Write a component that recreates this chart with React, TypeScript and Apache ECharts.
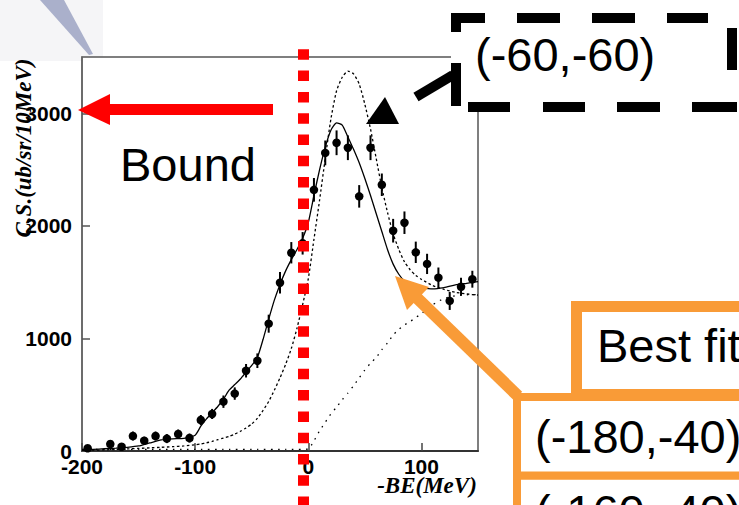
import React, { useEffect, useRef } from 'react';
import * as echarts from 'echarts';

// Measured data points (binding energy, cross section) with error bars
const pointX = [-195,-175,-165,-155,-145,-135,-125,-115,-105,-95,-85,-75,-65,-55,-45,-35,-25,-15,-5,5,15,25,35,45,55,65,75,85,95,105,115,125,135,145];
const pointY = [24,62,38,133,92,133,110,151,115,275,329,438,510,713,802,1131,1495,1761,1845,2320,2648,2738,2694,2262,2694,2365,1957,2028,1765,1662,1540,1333,1459,1526];
const pointErr = [30,35,30,40,35,40,40,40,40,45,45,55,55,60,65,80,95,95,100,105,110,110,110,100,110,100,105,100,95,90,90,80,80,75];

// Curves sampled on a shared x grid
const curveX = [-200,-190,-180,-170,-160,-150,-140,-130,-120,-110,-100,-95,-90,-85,-80,-75,-70,-65,-60,-55,-50,-45,-40,-35,-30,-25,-20,-15,-10,-5,0,5,10,15,20,25,30,35,40,45,50,55,60,65,70,75,80,85,90,95,100,110,120,130,140,150];
const bestFitY = [12,15,20,25,33,45,72,98,108,113,140,220,285,340,395,460,540,590,640,700,760,830,990,1170,1340,1480,1600,1700,1790,1890,2030,2270,2500,2700,2850,2915,2895,2790,2680,2560,2420,2270,2110,1950,1790,1660,1570,1510,1475,1460,1450,1440,1452,1475,1490,1505];
const model6060Y = [5,7,10,14,18,23,28,33,38,45,55,62,72,85,100,115,130,150,175,205,240,290,360,440,540,650,770,910,1090,1300,1530,1880,2230,2600,2950,3200,3320,3375,3350,3260,3080,2860,2600,2340,2120,1930,1790,1680,1610,1560,1525,1470,1435,1410,1395,1385];
const quasiFreeY = [15,15,15,15,15,15,15,15,15,15,15,15,15,15,15,15,15,15,15,15,15,15,15,15,15,15,15,15,15,15,18,90,180,255,330,390,455,515,580,650,720,780,830,900,960,1030,1080,1120,1150,1185,1220,1300,1355,1380,1388,1390];

// Axis settings and labels
const xMin = -200, xMax = 150, xStep = 100;
const yMin = 0, yMax = 3500, yStep = 1000;
const xTitle = '-BE(MeV)';
const yTitle = 'C.S.(ub/sr/10MeV)';
const annotations = ['Bound', '(-60,-60)', 'Best fit', '(-180,-40)', '(-160,-40)'];

const ORANGE = '#F99B37';
const RED = '#FF0000';

export default function App() {
  const ref = useRef<HTMLDivElement>(null);
  useEffect(() => {
    if (!ref.current) return;
    const chart = echarts.init(ref.current, undefined, { renderer: 'svg' });
    const txt = (text: string, x: number, y: number, extra: any = {}) => ({
      type: 'text', x, y, z: 20,
      style: {
        text, fill: '#000', fontSize: 47, fontFamily: 'Liberation Sans, Arial, sans-serif',
        align: 'left', verticalAlign: 'middle', textAlign: 'left', textVerticalAlign: 'middle', ...extra,
      },
    });
    const blk = (x: number, y: number, w: number, h: number) => ({
      type: 'rect', z: 21, shape: { x, y, width: w, height: h }, style: { fill: '#000' },
    });
    const plain = (v: number) => String(v);
    const option: any = {
      animation: false,
      backgroundColor: '#fff',
      grid: { left: 82, top: 57, right: 261, bottom: 54, show: true, borderColor: '#555', borderWidth: 1.5 },
      xAxis: {
        type: 'value', min: xMin, max: xMax, interval: xStep,
        axisLine: { show: true, onZero: false, lineStyle: { color: '#333', width: 2 } },
        axisTick: { show: true, inside: true, length: 8, lineStyle: { color: '#444', width: 1.5 } },
        axisLabel: { margin: 5, fontSize: 21, fontWeight: 'bold', color: '#000', fontFamily: 'Liberation Sans, Arial, sans-serif', showMaxLabel: false, formatter: plain },
        splitLine: { show: false },
      },
      yAxis: {
        type: 'value', min: yMin, max: yMax, interval: yStep,
        axisLine: { show: true, onZero: false, lineStyle: { color: '#666', width: 1.5 } },
        axisTick: { show: true, inside: true, length: 8, lineStyle: { color: '#555', width: 1.5 } },
        axisLabel: { margin: 10, fontSize: 21, fontWeight: 'bold', color: '#000', fontFamily: 'Liberation Sans, Arial, sans-serif', showMaxLabel: false, formatter: plain },
        splitLine: { show: false },
      },
      series: [
        {
          type: 'line', name: 'quasi-free', data: curveX.map((x, i) => [x, quasiFreeY[i]]),
          showSymbol: false, symbol: 'none', smooth: 0.2,
          lineStyle: { color: '#000', width: 1.3, type: [1.5, 5.5] }, z: 2,
        },
        {
          type: 'line', name: '(-60,-60)', data: curveX.map((x, i) => [x, model6060Y[i]]),
          showSymbol: false, symbol: 'none', smooth: 0.2,
          lineStyle: { color: '#000', width: 1.3, type: [2.5, 2.5] }, z: 2,
        },
        {
          type: 'line', name: 'Best fit', data: curveX.map((x, i) => [x, bestFitY[i]]),
          showSymbol: false, symbol: 'none', smooth: 0.2,
          lineStyle: { color: '#000', width: 1.3 }, z: 2,
        },
        {
          type: 'custom', name: 'errors',
          data: pointX.map((x, i) => [x, pointY[i], pointErr[i]]),
          encode: { x: 0, y: 1 },
          renderItem: (params: any, api: any) => {
            const x = api.value(0), y = api.value(1), e = api.value(2);
            const p1 = api.coord([x, y - e]);
            const p2 = api.coord([x, y + e]);
            return { type: 'line', shape: { x1: p1[0], y1: p1[1], x2: p2[0], y2: p2[1] }, style: { stroke: '#000', lineWidth: 2 } };
          },
          z: 3,
        },
        {
          type: 'scatter', name: 'data', data: pointX.map((x, i) => [x, pointY[i]]),
          symbol: 'circle', symbolSize: 8.5, itemStyle: { color: '#000', opacity: 1 }, z: 4,
        },
      ],
      graphic: [
        // faint logo in the corner
        { type: 'rect', z: -1, shape: { x: 0, y: 0, width: 82, height: 61 }, style: { fill: '#f5f5f7' } },
        { type: 'rect', z: -1, shape: { x: 82, y: 0, width: 21, height: 57 }, style: { fill: '#f5f5f7' } },
        { type: 'polygon', z: 1, shape: { points: [[40, 0], [64, 0], [93, 54], [89, 55]] }, style: { fill: '#aab0cb' } },
        // axis titles
        {
          type: 'text', x: 23, y: 148, rotation: Math.PI / 2, z: 5,
          style: { text: yTitle, fill: '#000', fontSize: 23, fontWeight: 'bold', fontStyle: 'italic', fontFamily: 'Liberation Serif, Times New Roman, serif', align: 'center', verticalAlign: 'middle', textAlign: 'center', textVerticalAlign: 'middle' },
        },
        {
          type: 'text', x: 427, y: 485, z: 5,
          style: { text: xTitle, fill: '#000', fontSize: 23, fontWeight: 'bold', fontStyle: 'italic', fontFamily: 'Liberation Serif, Times New Roman, serif', align: 'center', verticalAlign: 'middle', textAlign: 'center', textVerticalAlign: 'middle' },
        },
        // red arrow to bound region
        { type: 'line', z: 20, shape: { x1: 108, y1: 109.5, x2: 273, y2: 109.5 }, style: { stroke: RED, lineWidth: 11 } },
        { type: 'polygon', z: 20, shape: { points: [[78, 110], [110, 94], [110, 125]] }, style: { fill: RED } },
        txt(annotations[0], 120, 164.5),
        // red dotted threshold line
        { type: 'line', z: 19, shape: { x1: 303.5, y1: 49.3, x2: 303.5, y2: 505 }, style: { stroke: RED, lineWidth: 11, lineDash: [10.5, 10.8] } },
        // black dashed box with label
        { type: 'rect', z: 20, shape: { x: 451, y: 13, width: 288, height: 99 }, style: { fill: '#fff' } },
        blk(451, 13, 34, 10), blk(517, 13, 43, 10), blk(592, 13, 43, 10), blk(667, 13, 41, 10),
        blk(451, 13, 10, 19), blk(451, 63, 10, 43),
        blk(727, 28, 10, 42),
        blk(468, 102, 42, 10), blk(543, 102, 42, 10), blk(617, 102, 43, 10), blk(692, 102, 45, 10),
        txt(annotations[1], 475, 54),
        // black dashed arrow
        { type: 'line', z: 21, shape: { x1: 416, y1: 97, x2: 453, y2: 75 }, style: { stroke: '#000', lineWidth: 10 } },
        { type: 'polygon', z: 21, shape: { points: [[366, 124], [399, 124], [385, 97]] }, style: { fill: '#000' } },
        // orange table boxes
        { type: 'rect', z: 22, shape: { x: 517, y: 475.5, width: 300, height: 60 }, style: { fill: '#fff', stroke: ORANGE, lineWidth: 8 } },
        { type: 'rect', z: 23, shape: { x: 517, y: 397, width: 300, height: 78.5 }, style: { fill: '#fff', stroke: ORANGE, lineWidth: 8 } },
        { type: 'rect', z: 24, shape: { x: 576.5, y: 306.5, width: 300, height: 88 }, style: { fill: '#fff', stroke: ORANGE, lineWidth: 11 } },
        { ...txt(annotations[2], 597, 345), z: 25 },
        { ...txt(annotations[3], 535, 436), z: 25 },
        { ...txt(annotations[4], 535, 511), z: 25 },
        // orange arrow
        { type: 'line', z: 26, shape: { x1: 416, y1: 297, x2: 518, y2: 396 }, style: { stroke: ORANGE, lineWidth: 12 } },
        { type: 'polygon', z: 26, shape: { points: [[395, 276], [429, 287], [407, 310]] }, style: { fill: ORANGE } },
      ],
    };
    chart.setOption(option);
    return () => chart.dispose();
  }, []);
  return <div ref={ref} style={{ position: 'absolute', left: 0, top: 0, width: 739, height: 505 }} />;
}
